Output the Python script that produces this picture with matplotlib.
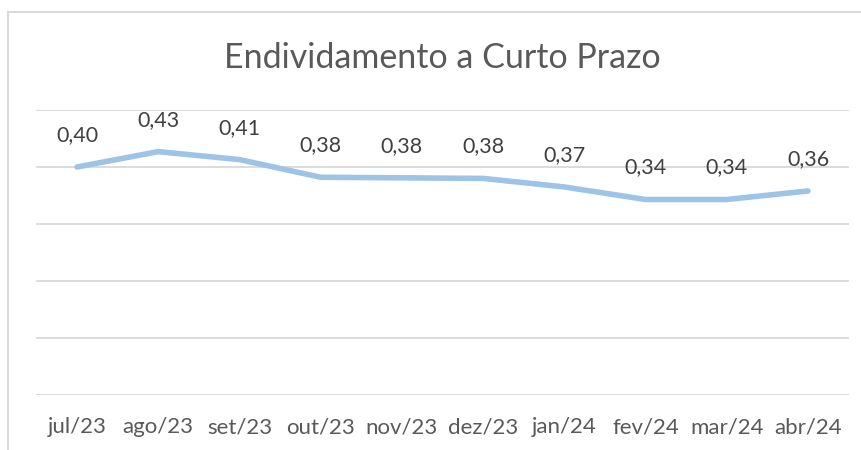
import matplotlib
matplotlib.use("Agg")
import matplotlib.pyplot as plt
from matplotlib.patches import Rectangle

categories = ["jul/23", "ago/23", "set/23", "out/23", "nov/23", "dez/23",
              "jan/24", "fev/24", "mar/24", "abr/24"]
values = [0.40, 0.427, 0.413, 0.382, 0.381, 0.380, 0.365, 0.343, 0.343, 0.358]
labels = ["0,40", "0,43", "0,41", "0,38", "0,38", "0,38", "0,37", "0,34", "0,34", "0,36"]
title = "Endividamento a Curto Prazo"

W, H = 862, 450
fig = plt.figure(figsize=(W / 100, H / 100), dpi=100)
fig.patch.set_facecolor("white")

left = 36.4 / W
right = 848.6 / W
bottom = (H - 395) / H
top = (H - 110) / H
ax = fig.add_axes([left, bottom, right - left, top - bottom])

x = list(range(len(categories)))
ax.plot(x, values, color="#9DC3E6", linewidth=4.0, solid_capstyle="round",
        solid_joinstyle="round", zorder=3)

for xi, v, lab in zip(x, values, labels):
    ax.annotate(lab, (xi, v), xytext=(0, 23), textcoords="offset points",
                ha="center", va="center", fontsize=15.5, color="#404040",
                family="Lato")

ax.set_xlim(-0.5, len(categories) - 0.5)
ax.set_ylim(0, 0.5)
ax.set_yticks([0, 0.1, 0.2, 0.3, 0.4, 0.5])
ax.yaxis.grid(True, color="#D9D9D9", linewidth=1.3)
ax.set_axisbelow(True)
ax.tick_params(axis="y", left=False, labelleft=False)
ax.set_xticks(x)
ax.set_xticklabels(categories, family="Lato", fontsize=16, color="#595959")
ax.tick_params(axis="x", length=0, pad=16)
for s in ax.spines.values():
    s.set_visible(False)

fig.text(442.5 / W, 1 - 58 / H, title, ha="center", va="center",
         fontsize=24.5, color="#595959", family="Lato")

border = Rectangle((8 / W, -0.2), 1.2, (H - 12) / H + 0.2, transform=fig.transFigure,
                   fill=False, edgecolor="#D9D9D9", linewidth=1.5, clip_on=False)
fig.add_artist(border)

fig.savefig("out.png", dpi=100, facecolor="white")
